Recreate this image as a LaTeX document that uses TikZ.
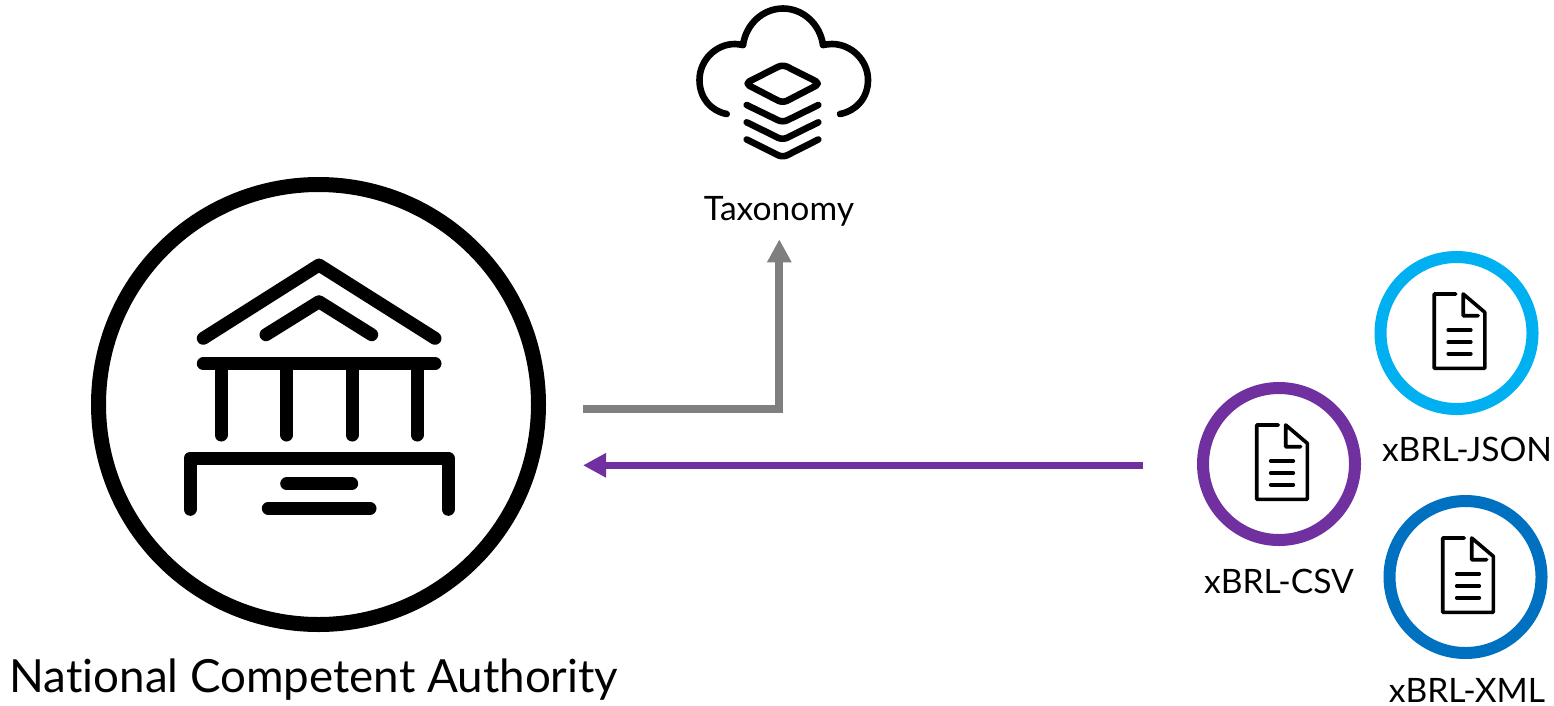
\documentclass[tikz,border=0pt]{standalone}
\usepackage{fontspec}
\setmainfont{Lato}[Ligatures=NoCommon]
\usetikzlibrary{arrows.meta}
\definecolor{grayline}{HTML}{7F7F7F}
\definecolor{purp}{HTML}{7030A0}
\definecolor{cyanb}{HTML}{00B0F0}
\definecolor{blueb}{HTML}{0070C0}
\tikzset{
  ring/.style={draw=#1,circle,line width=12pt,minimum size=152pt,inner sep=0pt,outer sep=0pt},
  bigring/.style={draw=black,circle,line width=15pt,minimum size=440pt,inner sep=0pt,outer sep=0pt},
  bank/.style={line width=13pt,line cap=round,line join=round},
  cloudline/.style={line width=6.6pt,line cap=round,line join=round},
  docline/.style={line width=3.6pt,line cap=round,line join=round},
  lab/.style={text=black,inner sep=0pt,anchor=base,font=\fontsize{33.6}{34}\selectfont},
  biglab/.style={text=black,inner sep=0pt,anchor=base,font=\fontsize{45.7}{46}\selectfont},
  flow/.style={line width=#1,line join=miter,-{Triangle[length=23pt,width=23pt]}},
  docicon/.pic={
    \draw[docline] (-0.7,-39) -- (-22.3,-39) -- (-22.3,35.3) -- (28.3,35.3) -- (28.3,-20.7) -- (6.7,-39) -- (6.7,-17.3) -- (21.7,-17.3);
    \draw[docline] (-8.3,-3) -- (14.3,-3);
    \draw[docline] (-8.3,9) -- (14.3,9);
    \draw[docline] (-8.3,20.7) -- (14.3,20.7);
  }
}
\begin{document}
\begin{tikzpicture}[x=1pt,y=-1pt]
\useasboundingbox (0,0) rectangle (1554,705);
% National Competent Authority
\node[bigring] (nca) at (318.5,404.5) {};
\draw[bank] (203.3,338.3) -- (319,265) -- (435,338.3);
\draw[bank] (266,334.7) -- (319,301.7) -- (371.7,334.7);
\draw[bank] (203.3,363.7) -- (435,363.7);
\draw[bank] (221,363.7) -- (221,435);
\draw[bank] (286.7,363.7) -- (286.7,435);
\draw[bank] (352,363.7) -- (352,435);
\draw[bank] (417,363.7) -- (417,435);
\draw[bank] (190,509.3) -- (190,458) -- (448,458) -- (448,509.3);
\draw[bank] (286.7,483.7) -- (351.7,483.7);
\draw[bank] (268.3,508.3) -- (370,508.3);
\node[biglab] (ncalabel) at (314,692) {National Competent Authority};
% Taxonomy
\draw[cloudline] (726.7,114) .. controls (711,111) and (699.5,98) .. (699.5,80) .. controls (699.5,60) and (716,44) .. (735,44) .. controls (737,44) and (740,44.5) .. (743,45);
\draw[cloudline] (743,45) .. controls (746,24) and (763,8.5) .. (783,8.5) .. controls (803,8.5) and (820,24) .. (823,45);
\draw[cloudline] (823,45) .. controls (826,44.5) and (829,44) .. (832,44) .. controls (851,44) and (868,60) .. (868,80) .. controls (868,98) and (856,111) .. (840,114);
\draw[cloudline,rounded corners=5pt] (782.7,64.5) -- (745,83.5) -- (782.7,103) -- (820.3,83.5) -- cycle;
\draw[cloudline,rounded corners=5pt] (746.7,105) -- (782.7,122.5) -- (818.3,105);
\draw[cloudline,rounded corners=5pt] (746.7,122.3) -- (782.7,140) -- (818.3,122.3);
\draw[cloudline,rounded corners=5pt] (746.7,139.5) -- (782.7,157.5) -- (818.3,139.5);
\node[lab] (taxlabel) at (779,220) {Taxonomy};
% Formats
\node[ring=purp] (csv) at (1279,464) {};
\pic at (1279,464) {docicon};
\node[lab] (csvlabel) at (1279,593) {xBRL-CSV};
\node[ring=cyanb] (json) at (1456.5,333) {};
\pic at (1456.5,333) {docicon};
\node[lab] (jsonlabel) at (1467,461) {xBRL-JSON};
\node[ring=blueb] (xml) at (1465.5,577) {};
\pic at (1465,577) {docicon};
\node[lab] (xmllabel) at (1467,702) {xBRL-XML};
% Connectors
\coordinate (grayfrom) at (583,408.7);
\coordinate (grayto) at (779.3,239.3);
\draw[flow=8pt,draw=grayline] (grayfrom) -| (grayto);
\draw[flow=7.5pt,draw=purp,shorten <=60pt,shorten >=44.5pt] (csv.west |- 0,465.3) -- (nca.east |- 0,465.3);
\end{tikzpicture}
\end{document}
